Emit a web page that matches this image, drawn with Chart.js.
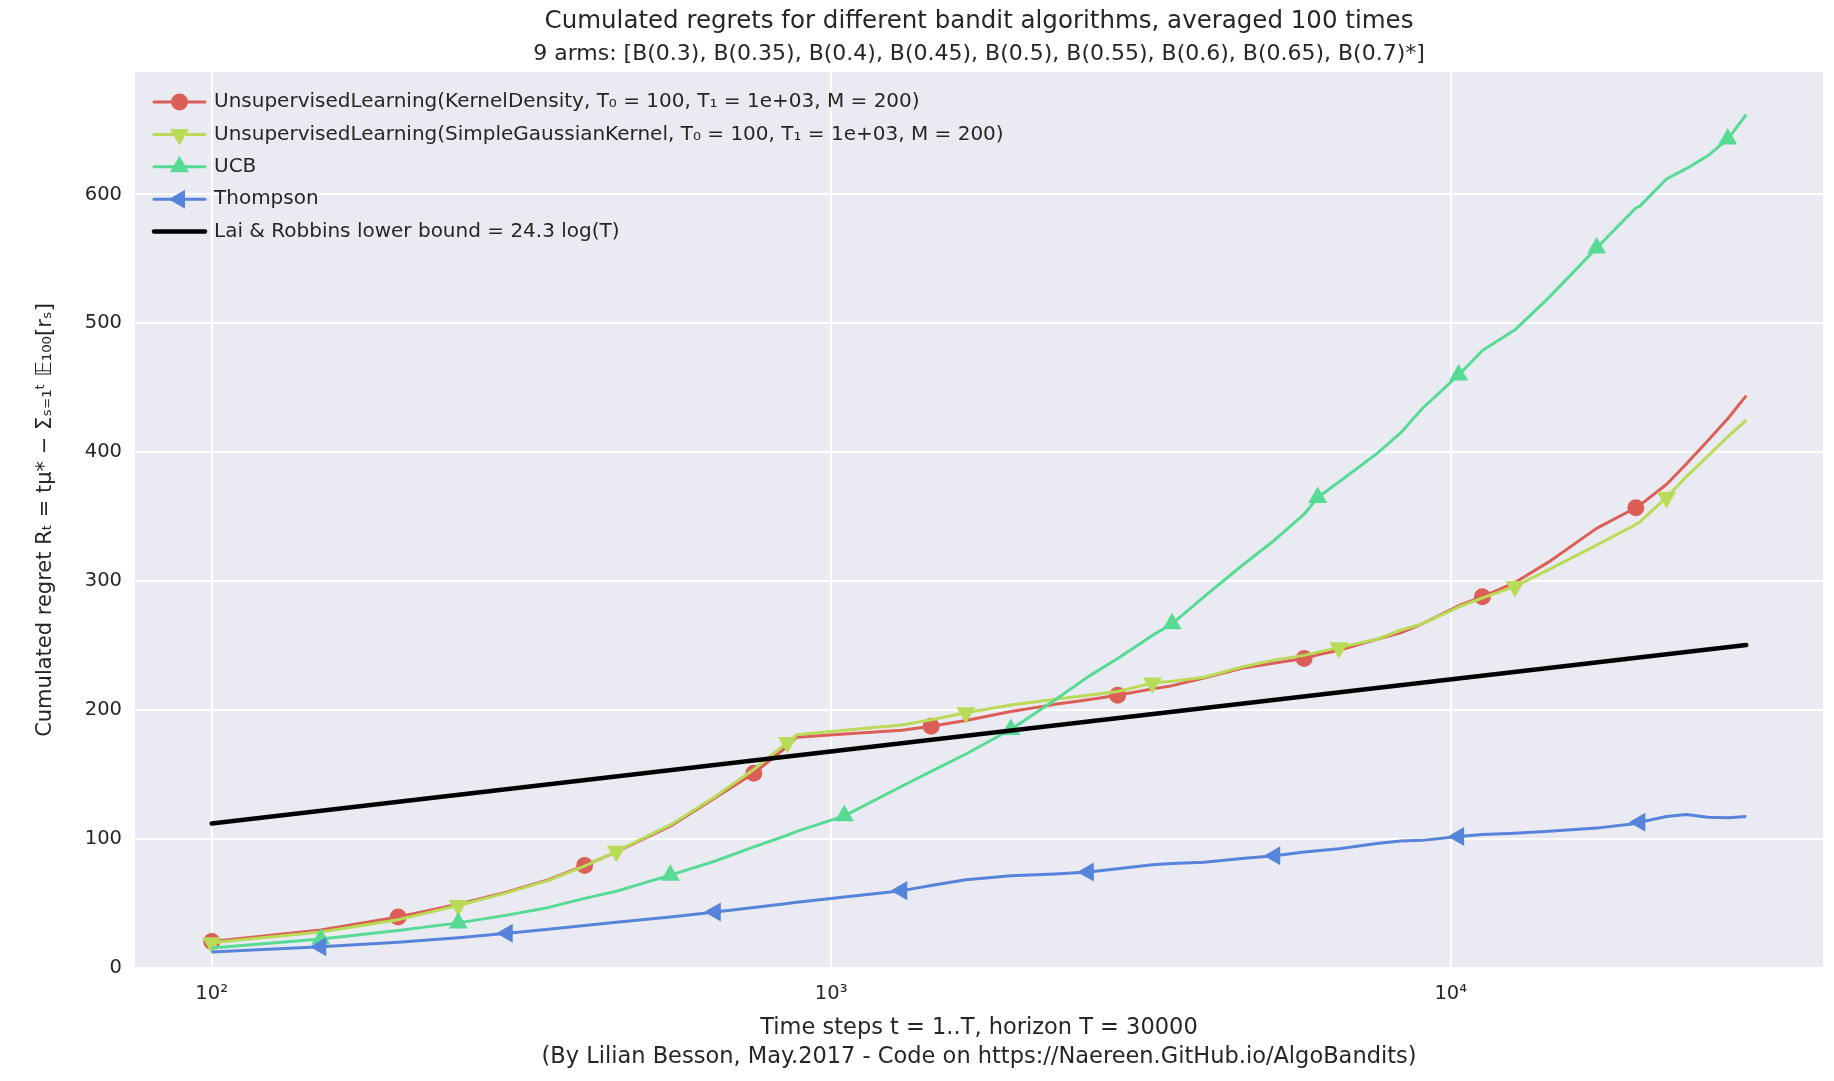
<!DOCTYPE html>
<html>
<head>
<meta charset="utf-8">
<script src="https://cdn.jsdelivr.net/npm/chart.js@4.4.0/dist/chart.umd.min.js"></script>
<style>
  html, body { margin: 0; padding: 0; background: #fff; }
</style>
</head>
<body>
<canvas id="regrets" width="1834" height="1081"></canvas>
<script>
// time steps (x) shared by the four algorithms
const steps = [100, 150, 200, 250, 300, 350, 400, 450, 550, 650, 750, 850, 880,
  1050, 1300, 1450, 1650, 1950, 2300, 2600, 2900, 3300, 3550, 4000, 4600, 5200,
  5800, 6100, 6600, 7600, 8300, 9000, 10300, 11250, 12700, 14400, 17200, 19900,
  20200, 22300, 24000, 26000, 28000, 30000];

const kernelDensity = [20.5, 29.5, 39.5, 49.5, 59, 68.5, 79.5, 90, 110, 132, 151, 172, 179,
  181.5, 184.5, 187.5, 192, 199, 204.5, 208, 211.5, 216.5, 219, 225, 232.5, 236.5,
  240, 243, 246.5, 255, 260, 267, 281, 288, 299, 315, 341, 357,
  359, 375, 391, 409, 426, 444];

const gaussianKernel = [19.5, 28, 37.5, 48.5, 58.5, 68, 79, 90.5, 111, 133, 154, 175, 181,
  184.5, 188.5, 192.5, 198, 204, 208.5, 211.5, 214.5, 221, 222.5, 225.5, 233.5, 239,
  242.5, 245, 248.5, 255, 262, 267, 280, 287, 296, 309, 328, 344,
  346, 365, 381, 397, 412, 425];

const ucb = [15.5, 22.5, 29, 35, 41, 47, 54, 59.5, 72, 83, 94, 103, 106,
  118, 141, 152.5, 166, 185, 208, 226, 240, 258, 267, 288, 312, 332,
  352, 365, 377, 399, 415, 434, 460, 479, 495, 520, 558.5, 589.5,
  591, 612, 620, 630, 643, 662];

const thompson = [12.5, 16.5, 20, 23.5, 27, 30, 33, 35.5, 39.5, 43.5, 47, 50, 51,
  55, 60, 64, 68.5, 71.5, 73, 74.5, 77, 80, 81, 82, 85, 87,
  90, 91, 92.5, 96.5, 98.5, 99, 102, 103.5, 104.5, 106, 108.5, 112,
  113, 117.5, 119, 117, 116.5, 117.5];

// Lai & Robbins lower bound, end points
const lbSteps = [100, 30000];
const lbValues = [112, 250.5];

// where the markers sit on each curve
const kdMarks = [100, 200, 400, 750, 1450, 2900, 5800, 11250, 19900];
const sgkMarks = [100, 250, 450, 850, 1650, 3300, 6600, 12700, 22300];
const ucbMarks = [150, 250, 550, 1050, 1950, 3550, 6100, 10300, 17200, 28000];
const tsMarks = [150, 300, 650, 1300, 2600, 5200, 10300, 20200];

const xTicks = [100, 1000, 10000];
const xTickLabels = ['10²', '10³', '10⁴'];
const yTicks = [0, 100, 200, 300, 400, 500, 600];

const TEXT = '#262626';
const FONT = 'DejaVu Sans';

const toPoints = (xs, ys) => xs.map((x, i) => ({ x: x, y: ys[i] }));
const marker = (marks, r) => (ctx) => marks.includes(steps[ctx.dataIndex]) ? r : 0;

const background = {
  id: 'background',
  beforeDraw(chart) {
    const { ctx, chartArea: a } = chart;
    ctx.save();
    ctx.fillStyle = '#EAEAF2';
    ctx.fillRect(a.left, a.top, a.right - a.left, a.bottom - a.top);
    ctx.restore();
  }
};

const titleAndLegend = {
  id: 'titleAndLegend',
  afterDraw(chart) {
    const { ctx, chartArea: a } = chart;
    ctx.save();
    ctx.fillStyle = TEXT;
    ctx.textBaseline = 'middle';
    ctx.textAlign = 'center';
    const cx = (a.left + a.right) / 2;
    ctx.font = '24.5px "' + FONT + '"';
    ctx.fillText('Cumulated regrets for different bandit algorithms, averaged 100 times', cx, 22);
    ctx.font = '22px "' + FONT + '"';
    ctx.fillText('9 arms: [B(0.3), B(0.35), B(0.4), B(0.45), B(0.5), B(0.55), B(0.6), B(0.65), B(0.7)*]', cx, 54);

    // legend, no frame, inside the axes
    ctx.textAlign = 'left';
    ctx.font = '20px "' + FONT + '"';
    chart.data.datasets.forEach((ds, i) => {
      const y = 102 + i * 32.4;
      ctx.strokeStyle = ds.borderColor;
      ctx.lineWidth = ds.borderWidth;
      ctx.lineCap = 'round';
      ctx.beginPath();
      ctx.moveTo(154, y);
      ctx.lineTo(205, y);
      ctx.stroke();
      if (ds.legendMarker) {
        ctx.fillStyle = ds.backgroundColor;
        ctx.strokeStyle = ds.borderColor;
        Chart.helpers.drawPoint(ctx, {
          pointStyle: ds.pointStyle,
          rotation: ds.pointRotation || 0,
          radius: ds.pointStyle === 'circle' ? 7 : 8,
          borderWidth: 1
        }, 179.5, y);
      }
      ctx.fillStyle = TEXT;
      ctx.fillText(ds.label, 214, y);
    });
    ctx.restore();
  }
};

new Chart(document.getElementById('regrets'), {
  type: 'line',
  data: {
    datasets: [{
      label: 'UnsupervisedLearning(KernelDensity, T₀ = 100, T₁ = 1e+03, M = 200)',
      data: toPoints(steps, kernelDensity),
      borderColor: '#db5f57',
      backgroundColor: '#db5f57',
      borderWidth: 3,
      pointStyle: 'circle',
      pointRadius: marker(kdMarks, 7),
      legendMarker: true,
      order: 5
    }, {
      label: 'UnsupervisedLearning(SimpleGaussianKernel, T₀ = 100, T₁ = 1e+03, M = 200)',
      data: toPoints(steps, gaussianKernel),
      borderColor: '#b9db57',
      backgroundColor: '#b9db57',
      borderWidth: 3,
      pointStyle: 'triangle',
      pointRotation: 180,
      pointRadius: marker(sgkMarks, 8),
      legendMarker: true,
      order: 4
    }, {
      label: 'UCB',
      data: toPoints(steps, ucb),
      borderColor: '#57db94',
      backgroundColor: '#57db94',
      borderWidth: 3,
      pointStyle: 'triangle',
      pointRadius: marker(ucbMarks, 8),
      legendMarker: true,
      order: 3
    }, {
      label: 'Thompson',
      data: toPoints(steps, thompson),
      borderColor: '#5784db',
      backgroundColor: '#5784db',
      borderWidth: 3,
      pointStyle: 'triangle',
      pointRotation: -90,
      pointRadius: marker(tsMarks, 8),
      legendMarker: true,
      order: 2
    }, {
      label: 'Lai & Robbins lower bound = 24.3 log(T)',
      data: toPoints(lbSteps, lbValues),
      borderColor: '#000000',
      backgroundColor: '#000000',
      borderWidth: 4.5,
      borderCapStyle: 'round',
      pointRadius: 0,
      legendMarker: false,
      order: 1
    }]
  },
  options: {
    responsive: false,
    animation: false,
    layout: { padding: { top: 72, right: 11, left: 0, bottom: 0 } },
    plugins: {
      legend: { display: false },
      title: { display: false },
      tooltip: { enabled: false }
    },
    elements: {
      line: { tension: 0, borderJoinStyle: 'round' },
      point: { borderWidth: 1, hoverRadius: 0 }
    },
    scales: {
      x: {
        type: 'logarithmic',
        min: 75.2,
        max: 39900,
        afterBuildTicks: (scale) => { scale.ticks = xTicks.map(v => ({ value: v })); },
        afterFit: (scale) => { scale.height = 113; },
        ticks: {
          autoSkip: false,
          maxRotation: 0,
          padding: 14,
          color: TEXT,
          font: { family: FONT, size: 19.5 },
          callback: (v) => xTickLabels[xTicks.indexOf(v)]
        },
        grid: { color: '#ffffff', lineWidth: 2, drawTicks: false },
        border: { display: false },
        title: {
          display: true,
          text: ['Time steps t = 1..T, horizon T = 30000',
                 '(By Lilian Besson, May.2017 - Code on https://Naereen.GitHub.io/AlgoBandits)'],
          color: TEXT,
          font: { family: FONT, size: 22.5, lineHeight: 1.29 },
          padding: { top: 0, bottom: 9 }
        }
      },
      y: {
        min: 0,
        max: 695,
        afterBuildTicks: (scale) => { scale.ticks = yTicks.map(v => ({ value: v })); },
        afterFit: (scale) => { scale.width = 135; },
        ticks: {
          padding: 13,
          color: TEXT,
          font: { family: FONT, size: 19.5 }
        },
        grid: { color: '#ffffff', lineWidth: 2, drawTicks: false },
        border: { display: false },
        title: {
          display: true,
          text: 'Cumulated regret Rₜ = tμ* − Σₛ₌₁ᵗ 𝔼₁₀₀[rₛ]',
          color: TEXT,
          font: { family: FONT, size: 21 },
          padding: { top: 33, bottom: 0 }
        }
      }
    }
  },
  plugins: [background, titleAndLegend]
});
</script>
</body>
</html>
